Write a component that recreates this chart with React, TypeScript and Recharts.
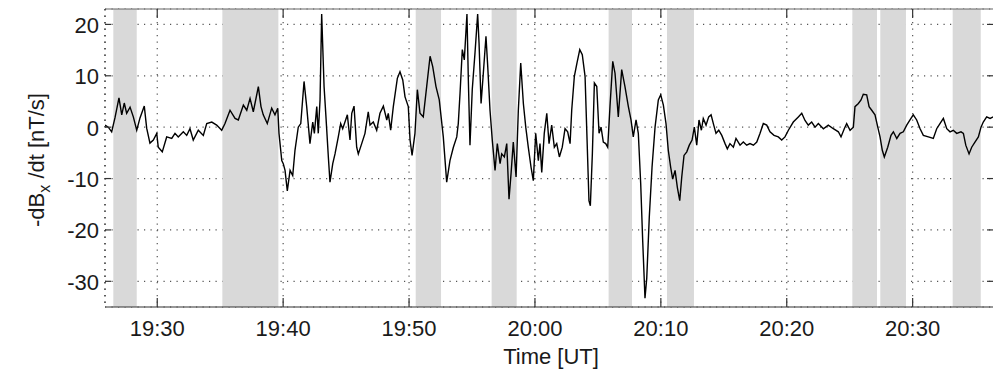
import React from 'react';
import { LineChart, Line, XAxis, YAxis, CartesianGrid, ReferenceArea, ReferenceLine } from 'recharts';

// minutes after 19:00 UT
const TIME = [
  25.85, 26.11, 26.38, 26.64, 26.96, 27.18, 27.38, 27.57, 27.84, 28.1, 28.37, 28.63, 28.97, 29.16, 29.42, 29.69,
  29.96, 30.08, 30.4, 30.75, 31.15, 31.41, 31.67, 32.07, 32.34, 32.6, 32.86, 33.26, 33.66, 33.93, 34.33, 34.72,
  35.12, 35.38, 35.78, 36.18, 36.44, 36.84, 37.11, 37.37, 37.63, 38.03, 38.24, 38.42, 38.74, 39.09, 39.35, 39.57,
  39.67, 39.89, 40.01, 40.15, 40.33, 40.55, 40.76, 40.94, 41.2, 41.4, 41.66, 41.87, 42.13, 42.35, 42.48, 42.67,
  42.79, 42.93, 43.06, 43.25, 43.4, 43.59, 43.72, 43.94, 44.12, 44.38, 44.57, 44.73, 44.91, 45.1, 45.31, 45.45,
  45.63, 45.84, 45.97, 46.24, 46.5, 46.76, 46.9, 47.16, 47.43, 47.69, 47.96, 48.23, 48.35, 48.54, 48.75, 49.07,
  49.28, 49.5, 49.68, 49.94, 50.08, 50.24, 50.47, 50.66, 50.87, 51.13, 51.4, 51.67, 51.88, 52.14, 52.4, 52.72,
  52.99, 53.25, 53.52, 53.79, 53.91, 54.05, 54.23, 54.39, 54.6, 54.71, 54.84, 55.02, 55.24, 55.45, 55.56, 55.72,
  55.9, 56.11, 56.25, 56.43, 56.61, 56.83, 57.01, 57.23, 57.36, 57.57, 57.76, 57.94, 58.1, 58.28, 58.5, 58.68,
  58.87, 59.08, 59.27, 59.47, 59.69, 59.87, 60.06, 60.27, 60.4, 60.54, 60.74, 60.94, 61.12, 61.33, 61.54, 61.73,
  61.94, 62.17, 62.39, 62.6, 62.79, 62.92, 63.13, 63.34, 63.56, 63.76, 63.98, 64.14, 64.29, 64.4, 64.56, 64.72,
  64.91, 65.09, 65.25, 65.43, 65.62, 65.78, 65.96, 66.18, 66.36, 66.62, 66.89, 67.15, 67.42, 67.63, 67.81, 68.03,
  68.21, 68.4, 68.56, 68.74, 68.88, 69.08, 69.3, 69.54, 69.8, 69.99, 70.2, 70.41, 70.59, 70.78, 70.94, 71.13,
  71.31, 71.5, 71.66, 71.84, 72.06, 72.26, 72.48, 72.66, 72.85, 73.03, 73.22, 73.37, 73.59, 73.8, 73.99, 74.17,
  74.38, 74.6, 74.84, 75.1, 75.28, 75.49, 75.76, 75.97, 76.29, 76.55, 76.82, 77.08, 77.35, 77.62, 77.88, 78.14,
  78.41, 78.67, 78.99, 79.33, 79.6, 79.86, 80.13, 80.52, 80.92, 81.19, 81.45, 81.71, 81.98, 82.25, 82.51, 82.91,
  83.3, 83.7, 84.1, 84.31, 84.57, 84.76, 85.03, 85.29, 85.42, 85.69, 85.9, 86.08, 86.35, 86.54, 86.75, 87.01,
  87.23, 87.41, 87.59, 87.75, 88.02, 88.28, 88.47, 88.74, 89.0, 89.26, 89.53, 89.79, 90.05, 90.32, 90.59, 90.85,
  91.25, 91.64, 91.91, 92.17, 92.44, 92.71, 92.97, 93.23, 93.5, 93.84, 94.03, 94.22, 94.48, 94.69, 94.95, 95.22,
  95.43, 95.61, 95.88, 96.15, 96.41, 96.68,
];

// -dBx/dt in nT/s
const DBDT = [
  0.4, 0, -0.9, 1.8, 5.7, 2.4, 4.7, 2.7, 3.9, 2, -0.6, 1.8, 4.1, -0.2, -3.1, -2.5,
  -1.2, -3.9, -4.8, -1.9, -2.2, -1.2, -1.9, -0.9, -1.6, -0.3, -2.5, -0.6, -1.6, 0.7, 1, 0.4,
  -0.6, 0.7, 3.3, 1.7, 1.4, 4.3, 3.3, 5.6, 3, 7.9, 4, 2.4, 0.7, 3.7, 2.4, 3.7,
  -1.2, -6.5, -7.1, -8.4, -12.4, -8.4, -9.4, -4.5, 0, 0.7, 8.9, 4, -3.2, 1, -1.2, 4,
  -1.2, 5.3, 22, 7.9, 2, -5.8, -10.7, -7.1, -5.2, -1.9, 0.7, -0.3, 1, 2.4, -2.5, 2.7,
  4.1, -3.9, -5.2, -3.2, -1.2, 3, 0.4, 1, -0.6, 2.7, 4.1, 1.4, 2.7, -0.6, 4, 9.5,
  10.8, 9.2, 5.9, 4, -2.5, -5.5, -1.2, 7.3, 2.7, 2, 7.9, 13.8, 11.8, 7.9, 5.3, -1.9,
  -10.7, -6.5, -3.9, -1.9, 0.7, 6.6, 15.1, 13.1, 22, 9.2, -3.5, 7.3, 14.5, 22, 16.4, 4.6,
  10.5, 17.7, 11.8, 3.3, -2.5, -8.4, -3.2, -7.1, -5.2, -5.8, -3.2, -14, -9.1, -2.9, -9.7, 3.3,
  12.5, 4.6, 0, -3.9, -7.8, -10.4, -1.2, -6.5, -3.2, -8.8, -1.2, 2.7, -3.2, 0.4, -3.9, -3.2,
  -5.8, -3.9, -0.3, -0.9, -3.2, 3.3, 9.9, 12.5, 15.1, 14.1, 9.9, -2.5, -14.3, -15.3, -5.2, 8.6,
  7.9, -1.2, 0, -2.9, -3.2, -3.9, 4, 12.8, 10.5, 2, 11.2, 7.9, 4, 1.4, -1.9, 1.4,
  -1.2, -11, -22.2, -33.3, -29.4, -17.6, -7.8, 0, 5.3, 6.3, 4.3, 0.7, -4.5, -7.8, -10.1, -8.4,
  -11.7, -14.3, -9.7, -5.5, -4.8, -3.5, -2.5, 0, -3.5, 1.4, -0.6, 1.7, 0.4, 2, 2.4, 0.7,
  -1.2, -0.6, -1.6, -3.2, -4.2, -3.2, -3.9, -2.2, -3.5, -2.9, -3.5, -3.2, -3.5, -2.9, -1.2, 0.7,
  0.4, -0.9, -1.6, -1.9, -2.5, -1.9, -0.6, 1, 2, 2.7, 1.3, 0.4, 1, 0, 0.7, -0.3,
  0.4, -0.3, -0.9, -1.9, -0.3, 0.7, -0.6, 0, 4, 4.6, 5.3, 6.4, 6.3, 4, 3.3, 2.4,
  0, -1.9, -4.5, -5.8, -3.9, -1.6, -0.9, -2.2, -1.2, -0.9, 0.4, 1.4, 2.4, 1.4, -0.3, -1.6,
  -1.9, -2.2, -0.3, 0.7, 1.7, -0.3, -0.9, -0.6, -1.2, -0.9, -1.2, -3.5, -5.2, -3.9, -2.9, -1.9,
  0, 1, 2, 1.7, 2, 1.9,
];

// shaded intervals (minutes after 19:00)
const BAND_START = [26.51, 35.17, 50.53, 56.56, 65.85, 70.49, 85.21, 87.43, 93.18];
const BAND_END = [28.37, 39.62, 52.54, 58.55, 67.71, 72.63, 87.17, 89.47, 95.41];

const X_TICKS = [30, 40, 50, 60, 70, 80, 90];
const Y_TICKS = [-30, -20, -10, 0, 10, 20];
const X_DOMAIN = [25.85, 96.7];
const Y_DOMAIN = [-35, 23];

const data = TIME.map((t, i) => ({ t, v: DBDT[i] }));

const FONT = "'Liberation Sans', Arial, Helvetica, sans-serif";
const INK = '#1a1a1a';

const fmtTime = (m: number) => {
  const h = 19 + Math.floor(m / 60);
  const mm = Math.round(m % 60);
  return `${h}:${mm < 10 ? '0' : ''}${mm}`;
};

const BottomTick = (props: any) => {
  const { x, y, payload } = props;
  return (
    <g>
      <line x1={x} y1={y} x2={x} y2={y - 9} stroke="#333" strokeWidth={1.2} />
      <text x={x} y={y + 21} textAnchor="middle" dominantBaseline="central"
        fontFamily={FONT} fontSize={22} fill={INK}>
        {fmtTime(payload.value)}
      </text>
    </g>
  );
};

const TopTick = (props: any) => {
  const { x, y } = props;
  return <line x1={x} y1={y} x2={x} y2={y + 9} stroke="#333" strokeWidth={1.2} />;
};

const LeftTick = (props: any) => {
  const { x, y, payload } = props;
  return (
    <g>
      <line x1={x} y1={y} x2={x + 6} y2={y} stroke="#333" strokeWidth={1.2} />
      <text x={x - 6} y={y + 1} textAnchor="end" dominantBaseline="central"
        fontFamily={FONT} fontSize={22} fill={INK}>
        {payload.value}
      </text>
    </g>
  );
};

const RightTick = (props: any) => {
  const { x, y } = props;
  return <line x1={x} y1={y} x2={x - 10} y2={y} stroke="#333" strokeWidth={1.2} />;
};

const YLabel = (props: any) => {
  const vb = props.viewBox || { x: 37, y: 1, width: 60, height: 298 };
  const cx = vb.x - 1;
  const cy = vb.y + vb.height / 2 + 2;
  return (
    <text x={cx} y={cy} transform={`rotate(-90, ${cx}, ${cy})`} textAnchor="middle"
      fontFamily={FONT} fontSize={22} fill={INK}>
      -dB
      <tspan dy={6} fontSize={16}>x</tspan>
      <tspan dy={-6}> /dt [nT/s]</tspan>
    </text>
  );
};

const XLabel = (props: any) => {
  const vb = props.viewBox || { x: 97, y: 299, width: 892, height: 40 };
  return (
    <text x={vb.x + vb.width / 2} y={vb.y + 49} textAnchor="middle" dominantBaseline="central"
      fontFamily={FONT} fontSize={22} fill={INK}>
      Time [UT]
    </text>
  );
};

export default function App() {
  return (
    <div style={{ width: 993, height: 363, background: '#fff' }}>
      <LineChart width={993} height={363} data={data}
        margin={{ top: 0, right: 3, bottom: 24, left: 37 }}>
        {BAND_START.map((s, i) => (
          <ReferenceArea key={i} x1={s} x2={BAND_END[i]} y1={Y_DOMAIN[0]} y2={Y_DOMAIN[1]}
            fill="#d9d9d9" fillOpacity={1} stroke="none" ifOverflow="hidden" />
        ))}
        <CartesianGrid stroke="#555" strokeWidth={1.2} strokeDasharray="1.2 5.3" />
        <XAxis dataKey="t" type="number" domain={X_DOMAIN} ticks={X_TICKS} allowDataOverflow
          height={40} tickSize={0} tickMargin={0} tick={<BottomTick />}
          axisLine={{ stroke: '#333', strokeWidth: 1.2 }} label={<XLabel />} />
        <XAxis xAxisId="top" orientation="top" dataKey="t" type="number" domain={X_DOMAIN}
          ticks={X_TICKS} allowDataOverflow height={1} tickSize={0} tickMargin={0}
          tick={<TopTick />} axisLine={false} />
        <YAxis type="number" domain={Y_DOMAIN} ticks={Y_TICKS} allowDataOverflow width={60}
          tickSize={0} tickMargin={0} tick={<LeftTick />}
          axisLine={{ stroke: '#333', strokeWidth: 1.2, strokeDasharray: '1.5 5' }} label={<YLabel />} />
        <YAxis yAxisId="right" orientation="right" type="number" domain={Y_DOMAIN} ticks={Y_TICKS}
          allowDataOverflow width={1} tickSize={0} tickMargin={0} tick={<RightTick />}
          axisLine={false} />
        <ReferenceLine y={Y_DOMAIN[1]} stroke="#666" strokeWidth={1.2} ifOverflow="visible" />
        <ReferenceLine x={X_DOMAIN[1]} stroke="#444" strokeWidth={1.2} ifOverflow="visible" />
        <Line dataKey="v" type="linear" stroke="#000" strokeWidth={1.4} dot={false}
          isAnimationActive={false} />
      </LineChart>
    </div>
  );
}
